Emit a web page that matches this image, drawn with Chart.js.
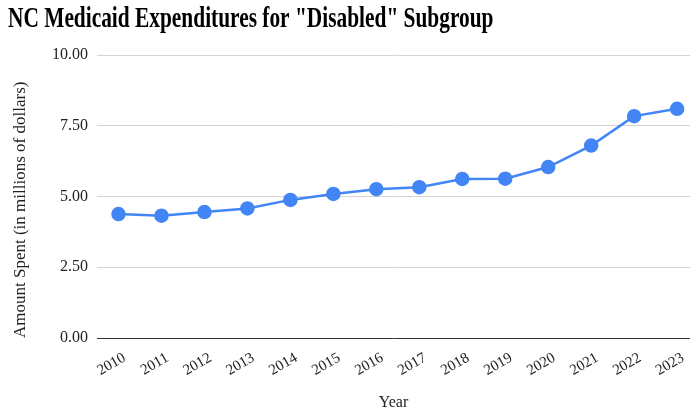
<!DOCTYPE html>
<html>
<head>
<meta charset="utf-8">
<script src="https://cdn.jsdelivr.net/npm/chart.js@4/dist/chart.umd.min.js"></script>
<style>
  html, body { margin: 0; padding: 0; background: #fff; overflow: hidden; }
  #wrap { width: 690px; height: 414px; }
</style>
</head>
<body>
<div id="wrap"><canvas id="line_graph" width="690" height="414"></canvas></div>
<script>
// data
var years = [2010, 2011, 2012, 2013, 2014, 2015, 2016, 2017, 2018, 2019, 2020, 2021, 2022, 2023];
var spent = [4.38, 4.32, 4.45, 4.58, 4.88, 5.09, 5.26, 5.33, 5.62, 5.63, 6.04, 6.80, 7.84, 8.10];
var yTicks = [0, 2.5, 5, 7.5, 10];
var titleText = 'NC Medicaid Expenditures for "Disabled" Subgroup';

var serif = "'Liberation Serif', 'Times New Roman', serif";
var ctx = document.getElementById('line_graph');

// the title in the picture is a narrow bold serif, so draw it squeezed
var narrowTitle = {
  id: 'narrowTitle',
  afterDraw: function (chart) {
    var c = chart.ctx;
    c.save();
    c.fillStyle = '#000';
    c.font = 'bold 29px ' + serif;
    c.textBaseline = 'alphabetic';
    c.textAlign = 'left';
    c.translate(8, 27);
    c.scale(0.737, 1);
    c.fillText(titleText, 0, 0);
    c.restore();
  }
};

var data = {
  datasets: [
    {
      label: "Amount Spent",
      data: years.map(function (y, i) { return { x: y, y: spent[i] }; }),
      borderColor: "#4285f4",
      backgroundColor: "#4285f4",
      borderWidth: 2.5,
      pointRadius: 6,
      pointHoverRadius: 6,
      fill: false,
      tension: 0
    }
  ]
};

var options = {
  responsive: false,
  animation: false,
  layout: { autoPadding: false, padding: { left: 8, right: 0, top: 55, bottom: 0 } },
  plugins: {
    legend: { display: false },
    tooltip: { enabled: false },
    title: { display: false }
  },
  scales: {
    x: {
      type: 'linear',
      min: 2009.5,
      max: 2023.3,
      border: { display: false },
      grid: { display: false },
      afterFit: function (scale) {
        scale.height = 76;
        scale.paddingRight = 0;
      },
      ticks: {
        stepSize: 1,
        includeBounds: false,
        autoSkip: false,
        minRotation: 30,
        maxRotation: 30,
        padding: 3,
        labelOffset: 6,
        color: '#222',
        font: { family: serif, size: 15 },
        callback: function (v) { return String(v); }
      },
      title: {
        display: true,
        text: 'Year',
        color: '#222',
        font: { family: serif, size: 16 },
        padding: 2
      }
    },
    y: {
      min: 0,
      max: 10,
      border: { display: false },
      afterFit: function (scale) { scale.width = 89; },
      afterBuildTicks: function (scale) {
        scale.ticks = yTicks.map(function (v) { return { value: v }; });
      },
      grid: {
        drawTicks: false,
        lineWidth: 1,
        color: function (c) { return c.tick && c.tick.value === 0 ? '#333333' : '#d4d4d4'; }
      },
      ticks: {
        padding: 9,
        color: '#222',
        font: { family: serif, size: 16 },
        callback: function (v) { return v.toFixed(2); }
      },
      title: {
        display: true,
        align: 'start',
        text: 'Amount Spent (in millions of dollars)',
        color: '#222',
        font: { family: serif, size: 17 },
        padding: 2
      }
    }
  }
};

var chart = new Chart(ctx, {
  type: "line",
  data: data,
  options: options,
  plugins: [narrowTitle]
});
</script>
</body>
</html>
